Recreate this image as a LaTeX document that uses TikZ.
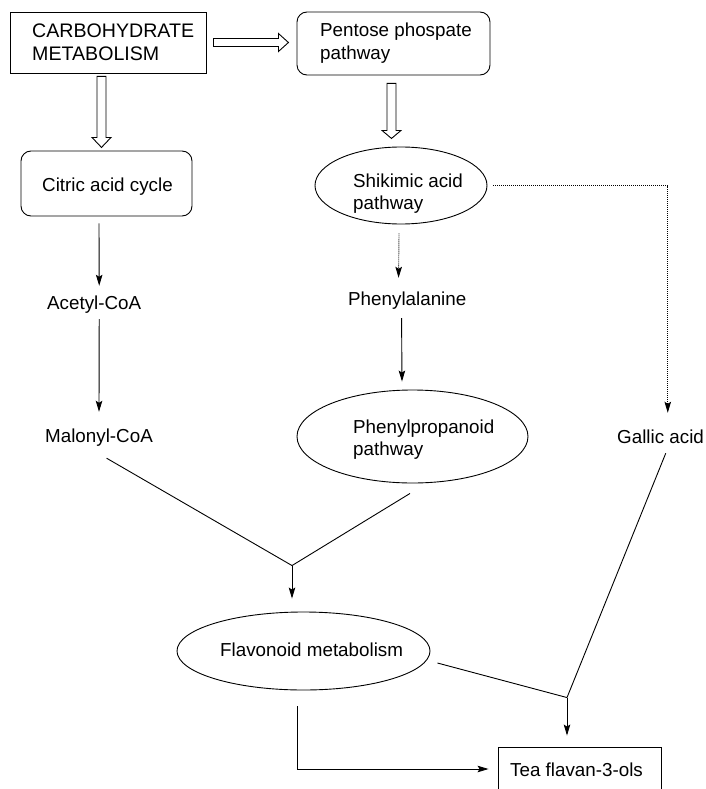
\documentclass[tikz,border=0pt]{standalone}
\usepackage{fontspec}
\setmainfont{Liberation Sans}
\usetikzlibrary{shapes.geometric,arrows.meta,calc}
\newcommand\TwoL[2]{\begin{tabular}[t]{@{}l@{}}#1\\#2\end{tabular}}
\begin{document}
\begin{tikzpicture}[x=1pt,y=-1pt,
  every node/.style={font=\fontsize{18.8}{22.5}\selectfont},
  lbl/.style={inner sep=0pt,anchor=base west,text height=14pt,text depth=4pt},
  lbltwo/.style={inner sep=0pt,anchor=base west},
  sqbox/.style={draw,rectangle,line width=0.9pt,inner sep=0pt},
  rbox/.style={draw,rectangle,rounded corners=10pt,line width=0.9pt,inner sep=0pt},
  ell/.style={draw,ellipse,line width=0.9pt,inner sep=0pt},
  conn/.style={line width=0.9pt},
  arr/.style={line width=0.9pt,-{Stealth[length=11pt,width=6.5pt,inset=2pt]}},
  dotarr/.style={line width=0.9pt,dash pattern=on 1pt off 1pt,-{Stealth[length=11pt,width=6.5pt,inset=2pt]}},
  hollow/.style={draw,fill=white,line width=0.9pt,line join=miter}]
\clip (0,0) rectangle (706,789);
\fill[white] (0,0) rectangle (706,789);

% shapes
\node[sqbox,minimum width=196pt,minimum height=61pt] (carb) at (108,42.5) {};
\node[rbox,minimum width=193pt,minimum height=63pt] (pent) at (393.5,43.5) {};
\node[rbox,minimum width=171pt,minimum height=65pt] (citric) at (106.5,183.5) {};
\node[ell,minimum width=172pt,minimum height=77pt] (shik) at (401,185.5) {};
\node[ell,minimum width=231pt,minimum height=93pt] (phpr) at (412.5,436.5) {};
\node[ell,minimum width=253pt,minimum height=78pt] (flav) at (303.5,651) {};
\node[sqbox,minimum width=163pt,minimum height=44pt] (tea) at (579.5,769) {};

% texts
\node[lbltwo,font=\fontsize{19.6}{23}\selectfont] (carbt) at (32,38) {\TwoL{CARBOHYDRATE}{METABOLISM}};
\node[lbltwo] (pentt) at (320,37) {\TwoL{Pentose phospate}{pathway}};
\node[lbl] (citrict) at (42,191) {Citric acid cycle};
\node[lbltwo] (shikt) at (353,187) {\TwoL{Shikimic acid}{pathway}};
\node[lbl] (acetyl) at (47,309) {Acetyl-CoA};
\node[lbl] (phe) at (348,305.5) {Phenylalanine};
\node[lbl] (malonyl) at (45,442) {Malonyl-CoA};
\node[lbltwo] (phprt) at (353,433) {\TwoL{Phenylpropanoid}{pathway}};
\node[lbl] (gallic) at (617,443) {Gallic acid};
\node[lbl] (flavt) at (220,656) {Flavonoid metabolism};
\node[lbl] (teat) at (510,776) {Tea flavan-3-ols};

% hollow arrows
\path ($(carb.east)+(7,0)$) coordinate (h1);
\draw[hollow] (h1) ++(0,-4) -- ++(65,0) -- ++(0,-5) -- ++(10,9) -- ++(-10,9) -- ++(0,-5) -- ++(-65,0) -- cycle;
\path ($(carb.south)+(-6.5,3)$) coordinate (h2);
\draw[hollow] (h2) ++(-4.5,0) -- ++(0,61) -- ++(-5,0) -- ++(9.5,10) -- ++(9.5,-10) -- ++(-5,0) -- ++(0,-61) -- cycle;
\path ($(pent.south)+(-2,8)$) coordinate (h3);
\draw[hollow] (h3) ++(-4.5,0) -- ++(0,47) -- ++(-5,0) -- ++(9.5,8) -- ++(9.5,-8) -- ++(-5,0) -- ++(0,-47) -- cycle;

% plain arrows
\draw[arr] ($(citric.south)+(-7.5,7)$) -- ($(acetyl.north)+(5,-9)$);
\draw[arr] ($(acetyl.south)+(5,6)$) -- ($(malonyl.north)+(0,-16)$);
\draw[dotarr] ($(shik.south)+(-2,9)$) -- ($(phe.north)+(-8.7,-13.5)$);
\draw[arr] ($(phe.south)+(-5.7,8.5)$) -- ($(phpr.north)+(-10.5,-8)$);
\draw[dotarr] ($(shik.east)+(6,0)$) -| ($(gallic.north)+(7.2,-16)$);

% merge into flavonoid metabolism
\coordinate (j1) at ($(flav.north)+(-11.5,-46)$);
\draw[conn] ($(malonyl.south)+(7.6,12)$) -- (j1);
\draw[conn] ($(phpr.south)+(-2.5,10)$) -- (j1);
\draw[arr] (j1) -- ($(flav.north)+(-11.5,-13)$);

% merge into tea flavan-3-ols
\coordinate (j2) at ($(tea.north)+(-12.5,-49)$);
\draw[conn] ($(flav.east)+(7,12)$) -- (j2);
\draw[conn] ($(gallic.south)+(5.2,6)$) -- (j2);
\draw[arr] (j2) -- ($(tea.north)+(-12.5,-11)$);
\draw[arr] ($(flav.south)+(-6.5,16)$) |- ($(tea.west)+(-9,0)$);
\end{tikzpicture}
\end{document}
